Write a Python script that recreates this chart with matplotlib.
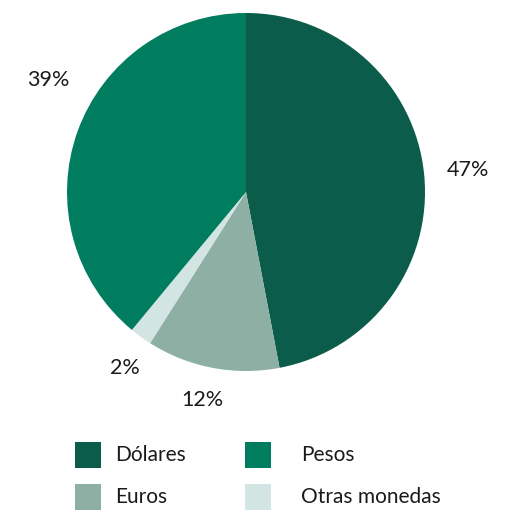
import numpy as np
import matplotlib
matplotlib.use("Agg")
import matplotlib.pyplot as plt
from matplotlib.patches import Rectangle

# data (clockwise from 12 o'clock)
categories = ["Dólares", "Euros", "Otras monedas", "Pesos"]
shares = [47, 12, 2, 39]
colors = ["#0b5c4a", "#8eb0a4", "#d3e5e3", "#007c5f"]
pct_labels = ["47%", "12%", "2%", "39%"]

# legend order as in the picture
legend_order = ["Dólares", "Pesos", "Euros", "Otras monedas"]

plt.rcParams['font.family'] = ['Lato', 'DejaVu Sans']

W, H = 520, 513
fig = plt.figure(figsize=(W / 100, H / 100), dpi=100)
ax = fig.add_axes([0, 0, 1, 1])

cx, cy, r = 246, 192, 179
wedges, _ = ax.pie(shares, colors=colors, startangle=90, counterclock=False,
                   center=(cx, cy), radius=r, frame=True,
                   wedgeprops=dict(edgecolor='none', linewidth=0))
ax.set_xlim(0, W)
ax.set_ylim(H, 0)
ax.set_aspect('equal')
ax.axis('off')

# pie drawn in y-up; flip angles because the y axis is inverted
for w in wedges:
    th1, th2 = w.theta1, w.theta2
    w.set_theta1(-th2)
    w.set_theta2(-th1)

label_pos = {"47%": (468, 170), "12%": (202, 400), "2%": (125, 368), "39%": (48, 80)}
for lab in pct_labels:
    x, y = label_pos[lab]
    ax.text(x, y, lab, ha='center', va='center', fontsize=15.5, color='#1a1a1a')

# legend
leg_pos = {"Dólares": (75, 455), "Pesos": (245, 455),
           "Euros": (75, 497), "Otras monedas": (245, 497)}
for name in legend_order:
    x, y = leg_pos[name]
    c = colors[categories.index(name)]
    ax.add_patch(Rectangle((x, y - 13), 26, 26, facecolor=c, edgecolor='none'))
    tx = x + 40 if name in ("Dólares", "Euros") else x + 56
    ax.text(tx, y, name, ha='left', va='center', fontsize=15, color='#1a1a1a')

fig.savefig("out.png", dpi=100)
